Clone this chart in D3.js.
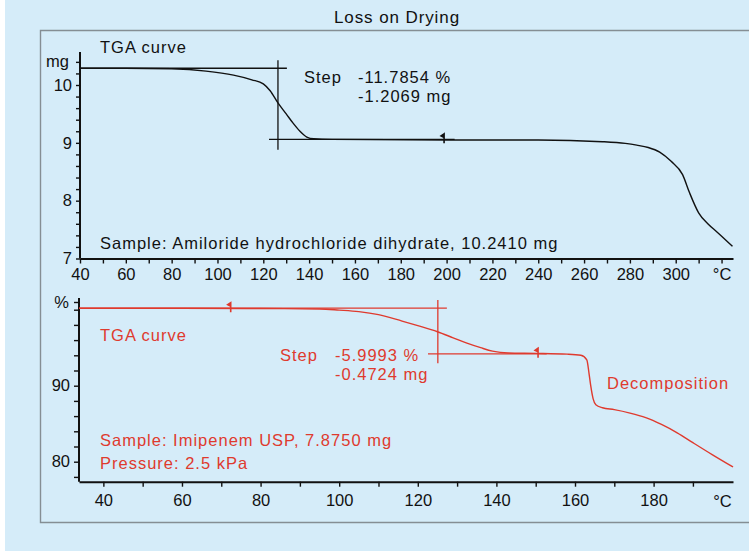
<!DOCTYPE html>
<html>
<head>
<meta charset="utf-8">
<script src="https://cdn.jsdelivr.net/npm/d3@7"></script>
<style>
  body { margin: 0; background: #fff; }
  svg text { font-family: "Liberation Sans", Arial, sans-serif; }
</style>
</head>
<body>
<div id="chart"></div>
<script>
// Top curve (Amiloride, mg vs degC)
var topTemps = [40, 60, 80, 95, 107, 115, 120, 123, 126.4, 130, 133, 136, 139, 142, 150, 200, 240, 268, 278, 283, 288, 293, 298, 303, 306, 310, 314, 318, 324.8];
var topMass = [10.29, 10.29, 10.28, 10.24, 10.17, 10.09, 10.02, 9.9, 9.69, 9.5, 9.34, 9.2, 9.1, 9.07, 9.06, 9.05, 9.05, 9.02, 8.99, 8.96, 8.92, 8.84, 8.68, 8.45, 8.14, 7.79, 7.6, 7.46, 7.21];

// Bottom curve (Imipenem, % vs degC)
var bottomTemps = [33.8, 60, 80, 95, 100, 105, 110, 116, 120, 125, 129, 132.5, 136, 139, 143, 150, 158, 161.5, 163, 163.6, 164, 164.6, 165.3, 167, 170, 174, 178, 182, 186, 190, 195, 200.2];
var bottomPercent = [100.2, 100.2, 100.15, 100.1, 99.95, 99.75, 99.35, 98.5, 97.9, 97.1, 96.3, 95.6, 95.0, 94.55, 94.3, 94.25, 94.15, 94.0, 93.4, 91.5, 90.0, 88.3, 87.5, 87.1, 86.85, 86.4, 85.8, 84.9, 83.8, 82.5, 80.9, 79.3];

// Step evaluation lines [temp, value]
var topStepLines = [
  [[40, 10.29], [130.3, 10.29]],
  [[126.4, 10.43], [126.4, 8.88]],
  [[122.5, 9.06], [203.5, 9.06]]
];
var bottomStepLines = [
  [[33.8, 100.2], [127.4, 100.2]],
  [[125.1, 101.28], [125.1, 92.97]],
  [[122.6, 94.2], [152.8, 94.2]]
];
var topMarkers = [[198.9, 9.06]];
var bottomMarkers = [[72.4, 100.2], [150.6, 94.2]];

// Tick labels
var topXLabels = [40, 60, 80, 100, 120, 140, 160, 180, 200, 220, 240, 260, 280, 300];
var topYLabels = [7, 8, 9, 10];
var bottomXLabels = [40, 60, 80, 100, 120, 140, 160, 180];
var bottomYLabels = [80, 90];

var black = '#111';
var red = '#df3a2e';

var svg = d3
  .select('#chart')
  .append('svg')
  .attr('width', 749)
  .attr('height', 551);

svg.append('rect')
  .attr('x', 5).attr('y', 0)
  .attr('width', 744).attr('height', 551)
  .attr('fill', '#d5ecf9');

// frame (open on the right)
svg.append('path')
  .attr('d', 'M760,30.5 L40.5,30.5 L40.5,522.5 L760,522.5')
  .attr('fill', 'none')
  .attr('stroke', '#858e94')
  .attr('stroke-width', 1.4);

svg.append('text')
  .attr('x', 397).attr('y', 23)
  .attr('text-anchor', 'middle')
  .style('font-size', '17px')
  .style('letter-spacing', '0.9px')
  .attr('fill', black)
  .text('Loss on Drying');

function addText(x, y, str, color) {
  svg.append('text')
    .attr('x', x).attr('y', y)
    .style('font-size', '16.5px')
    .style('letter-spacing', '1px')
    .attr('fill', color)
    .text(str);
}

function drawMarkers(data, x, y, color) {
  svg.selectAll(null)
    .data(data)
    .enter()
    .append('path')
    .attr('transform', function (d) {
      return 'translate(' + x(d[0]) + ',' + y(d[1]) + ')';
    })
    .attr('d', 'M0,-5.5 L0,4 M0,-5.5 L-3,-3.5 L0,-2 Z')
    .attr('fill', color)
    .attr('stroke', color)
    .attr('stroke-width', 1.6);
}

function styleAxis(g) {
  g.select('.domain').attr('stroke', black).attr('stroke-width', 2);
  g.selectAll('.tick line').attr('stroke', black).attr('stroke-width', 1.4);
  g.selectAll('.tick text')
    .attr('fill', black)
    .style('font-size', '16.5px')
    .style('font-family', '"Liberation Sans", Arial, sans-serif');
}

// ---------------- top chart ----------------
var xTop = d3.scaleLinear().domain([40, 325]).range([80, 733]);
var yTop = d3.scaleLinear().domain([7, 10]).range([258.5, 85]);

var topXAxis = svg.append('g')
  .attr('transform', 'translate(0,258.5)')
  .call(
    d3.axisBottom(xTop)
      .tickValues(d3.range(40, 321, 10))
      .tickSize(5)
      .tickSizeOuter(0)
      .tickPadding(5)
      .tickFormat(function (d) {
        if (d === 320) return '°C';
        return topXLabels.indexOf(d) >= 0 ? d : '';
      })
  );

var topYAxis = svg.append('g')
  .attr('transform', 'translate(80,0)')
  .call(
    d3.axisLeft(yTop)
      .tickValues(d3.range(7, 10.41, 0.2))
      .tickSize(4)
      .tickSizeOuter(0)
      .tickPadding(4)
      .tickFormat(function (d) {
        var r = Math.round(d * 10) / 10;
        return topYLabels.indexOf(r) >= 0 ? r : '';
      })
  );
// extend the y axis up past 10.4
topYAxis.select('.domain').attr('d', 'M0,' + 258.5 + 'V52');

styleAxis(topXAxis);
styleAxis(topYAxis);

svg.append('g')
  .selectAll('line')
  .data(topStepLines)
  .enter()
  .append('line')
  .attr('x1', function (d) { return xTop(d[0][0]); })
  .attr('y1', function (d) { return yTop(d[0][1]); })
  .attr('x2', function (d) { return xTop(d[1][0]); })
  .attr('y2', function (d) { return yTop(d[1][1]); })
  .attr('stroke', black)
  .attr('stroke-width', 1.3);

svg.append('path')
  .datum(d3.zip(topTemps, topMass))
  .attr('fill', 'none')
  .attr('stroke', black)
  .attr('stroke-width', 1.4)
  .attr('d', d3.line()
    .x(function (d) { return xTop(d[0]); })
    .y(function (d) { return yTop(d[1]); })
    .curve(d3.curveMonotoneX));

drawMarkers(topMarkers, xTop, yTop, black);

svg.append('text')
  .attr('x', 69).attr('y', 67)
  .attr('text-anchor', 'end')
  .style('font-size', '16.5px')
  .attr('fill', black)
  .text('mg');

addText(100, 53, 'TGA curve', black);
addText(304, 83, 'Step', black);
addText(358, 83, '-11.7854 %', black);
addText(358, 102, '-1.2069 mg', black);
addText(100, 249, 'Sample: Amiloride hydrochloride dihydrate, 10.2410 mg', black);

// ---------------- bottom chart ----------------
var xBot = d3.scaleLinear().domain([33.8, 200.2]).range([79, 733]);
var yBot = d3.scaleLinear().domain([80, 90]).range([461.7, 385.7]);

var botXAxis = svg.append('g')
  .attr('transform', 'translate(0,481.7)')
  .call(
    d3.axisBottom(xBot)
      .tickValues(d3.range(40, 191, 10))
      .tickSize(5)
      .tickSizeOuter(0)
      .tickPadding(8)
      .tickFormat(function (d) {
        return bottomXLabels.indexOf(d) >= 0 ? d : '';
      })
  );

var botYAxis = svg.append('g')
  .attr('transform', 'translate(79,0)')
  .call(
    d3.axisLeft(yBot)
      .tickValues(d3.range(78, 101, 2))
      .tickSize(5)
      .tickSizeOuter(0)
      .tickPadding(4)
      .tickFormat(function (d) {
        return bottomYLabels.indexOf(d) >= 0 ? d : '';
      })
  );
botYAxis.select('.domain').attr('d', 'M0,481.7V298');
botYAxis.append('line')
  .attr('x1', -5).attr('x2', 0)
  .attr('y1', 302.5).attr('y2', 302.5)
  .attr('stroke', black).attr('stroke-width', 1.4);

styleAxis(botXAxis);
styleAxis(botYAxis);

svg.append('text')
  .attr('x', xBot(197.5)).attr('y', 507)
  .attr('text-anchor', 'middle')
  .style('font-size', '16.5px')
  .attr('fill', black)
  .text('°C');

svg.append('text')
  .attr('x', 69).attr('y', 308)
  .attr('text-anchor', 'end')
  .style('font-size', '16.5px')
  .attr('fill', black)
  .text('%');

svg.append('g')
  .selectAll('line')
  .data(bottomStepLines)
  .enter()
  .append('line')
  .attr('x1', function (d) { return xBot(d[0][0]); })
  .attr('y1', function (d) { return yBot(d[0][1]); })
  .attr('x2', function (d) { return xBot(d[1][0]); })
  .attr('y2', function (d) { return yBot(d[1][1]); })
  .attr('stroke', red)
  .attr('stroke-width', 1.3);

svg.append('path')
  .datum(d3.zip(bottomTemps, bottomPercent))
  .attr('fill', 'none')
  .attr('stroke', red)
  .attr('stroke-width', 1.4)
  .attr('d', d3.line()
    .x(function (d) { return xBot(d[0]); })
    .y(function (d) { return yBot(d[1]); })
    .curve(d3.curveMonotoneX));

drawMarkers(bottomMarkers, xBot, yBot, red);

addText(100, 341, 'TGA curve', red);
addText(280, 361, 'Step', red);
addText(335, 361, '-5.9993 %', red);
addText(335, 380, '-0.4724 mg', red);
addText(607, 389, 'Decomposition', red);
addText(100, 446, 'Sample: Imipenem USP, 7.8750 mg', red);
addText(100, 469, 'Pressure: 2.5 kPa', red);
</script>
</body>
</html>
